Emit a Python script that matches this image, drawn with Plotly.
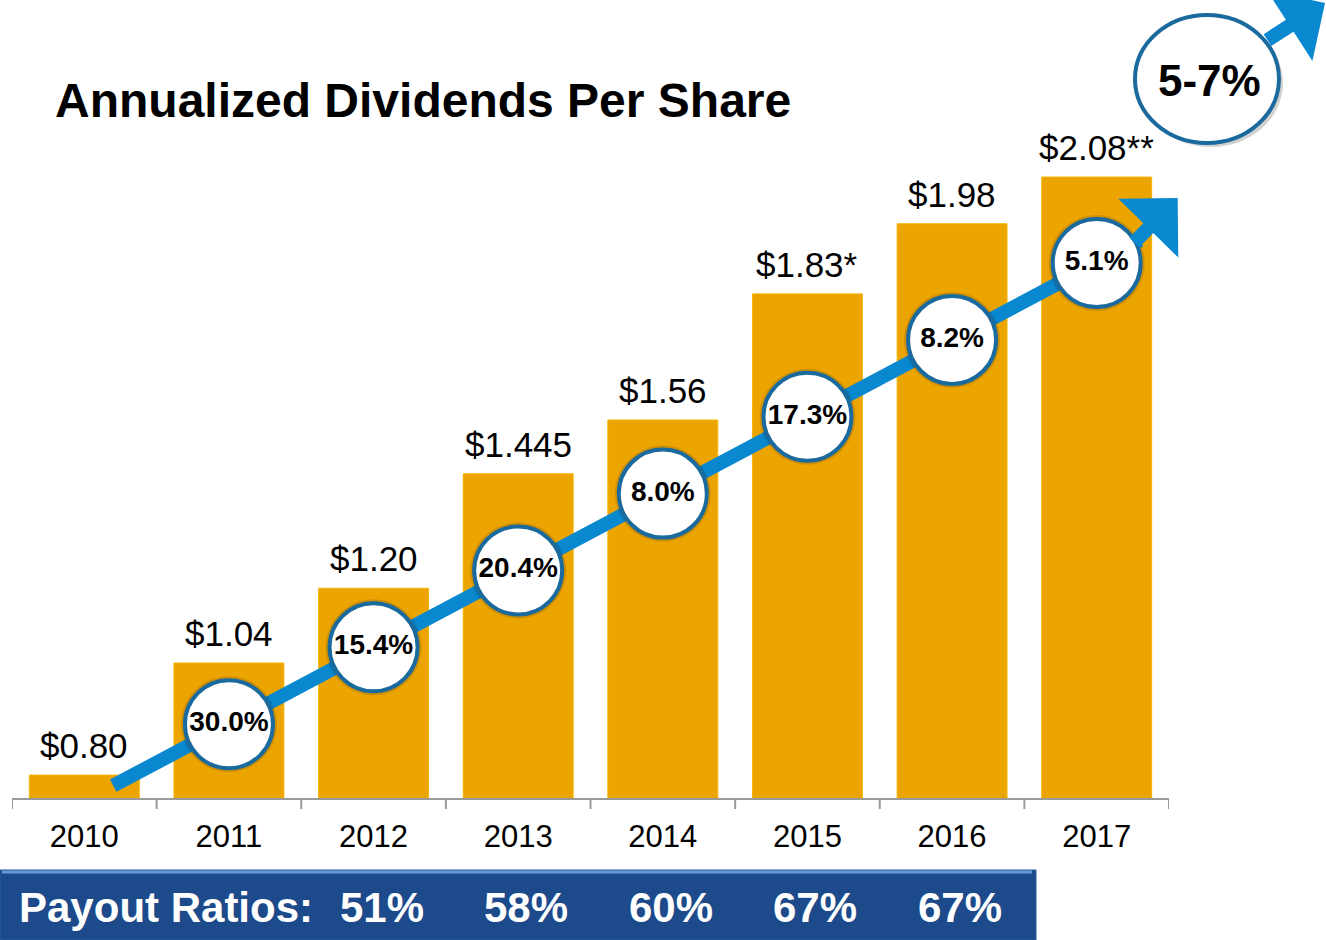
import plotly.graph_objects as go

# data
years = ["2010", "2011", "2012", "2013", "2014", "2015", "2016", "2017"]
dividends = [0.80, 1.04, 1.20, 1.445, 1.56, 1.83, 1.98, 2.08]
div_labels = ["$0.80", "$1.04", "$1.20", "$1.445", "$1.56", "$1.83*", "$1.98", "$2.08**"]

growth_years = ["2011", "2012", "2013", "2014", "2015", "2016", "2017"]
growth_labels = ["30.0%", "15.4%", "20.4%", "8.0%", "17.3%", "8.2%", "5.1%"]

payout_years = ["2012", "2013", "2014", "2015", "2016"]
payout_ratios = ["51%", "58%", "60%", "67%", "67%"]

outlook = "5-7%"

FONT = "Arial, Liberation Sans, sans-serif"
BLUE_LINE = "#0A88CF"
RING = "#1B6A9E"

# value axis window (bars start below the visible range)
y_lo, y_hi = 0.751, 2.459
# trend line the growth bubbles sit on (value axis units, per category step)
trend_start, trend_step = 0.909, 0.1645


def trend(i):
    return trend_start + trend_step * (i - 1)


def px_x(p):
    return p / 1326


def px_y(p):
    return 1 - p / 940


fig = go.Figure()

fig.add_trace(go.Bar(
    x=list(range(len(years))), y=dividends, width=0.76,
    marker=dict(color="#EBA400", line=dict(color="#F6B400", width=1)),
    hoverinfo="skip",
))

# blue growth line
gpos = [years.index(y) for y in growth_years]
gx = [0.2] + gpos + [7.3]
fig.add_trace(go.Scatter(
    x=gx, y=[trend(i) for i in gx], mode="lines",
    line=dict(color=BLUE_LINE, width=14), hoverinfo="skip",
))

# soft shadow ring behind the bubbles
fig.add_trace(go.Scatter(
    x=gpos, y=[trend(i) for i in gpos], mode="markers",
    marker=dict(size=96, color="rgba(0,0,0,0.12)", line=dict(width=0)),
    hoverinfo="skip",
))

# growth bubbles
fig.add_trace(go.Scatter(
    x=gpos, y=[trend(i) for i in gpos], mode="markers+text",
    marker=dict(size=88, color="white", line=dict(color=RING, width=4)),
    text=growth_labels, textposition="middle center",
    textfont=dict(family=FONT, size=28, color="black", weight="bold"),
    hoverinfo="skip",
))

# dollar labels above bars
for i, (v, lab) in enumerate(zip(dividends, div_labels)):
    fig.add_annotation(x=i, y=v, text=lab, showarrow=False, yanchor="bottom", yshift=8,
                       font=dict(family=FONT, size=35, color="black"))

# arrow head at the end of the growth line
fig.add_annotation(x=7.56, y=2.035, ax=7.25, ay=trend(7.25), axref="x", ayref="y",
                   xref="x", yref="y", text="", showarrow=True,
                   arrowhead=1, arrowsize=1.0, arrowwidth=14, arrowcolor=BLUE_LINE)

# outlook bubble with arrow, top right
fig.add_shape(type="circle", xref="paper", yref="paper",
              x0=px_x(1139), x1=px_x(1283), y0=px_y(147), y1=px_y(19),
              fillcolor="rgba(0,0,0,0.18)", line=dict(width=0), layer="above")
fig.add_shape(type="circle", xref="paper", yref="paper",
              x0=px_x(1135), x1=px_x(1279), y0=px_y(143), y1=px_y(15),
              fillcolor="white", line=dict(color=RING, width=4), layer="above")
fig.add_annotation(x=px_x(1325), y=px_y(3), xref="paper", yref="paper", ax=-59, ay=38,
                   text="", showarrow=True, arrowhead=1, arrowsize=1.0,
                   arrowwidth=14, arrowcolor=BLUE_LINE)
fig.add_annotation(x=px_x(1209), y=px_y(80), xref="paper", yref="paper",
                   xanchor="center", yanchor="middle",
                   text=outlook, showarrow=False,
                   font=dict(family=FONT, size=44, color="black", weight="bold"))

# title
fig.add_annotation(x=px_x(53), y=px_y(100), xref="paper", yref="paper",
                   xanchor="left", yanchor="middle",
                   text="<b>Annualized Dividends Per Share</b>", showarrow=False,
                   font=dict(family=FONT, size=48, color="black"))

# payout ratio banner
fig.add_shape(type="rect", xref="paper", yref="paper",
              x0=0, x1=px_x(1036), y0=0, y1=px_y(870),
              fillcolor="#1C4A8B", line=dict(color="#2A5C9E", width=1), layer="above")
fig.add_shape(type="line", xref="paper", yref="paper",
              x0=px_x(2), x1=px_x(1032), y0=px_y(872), y1=px_y(872),
              line=dict(color="#6A9AD6", width=3), layer="above")
fig.add_annotation(x=px_x(17), y=px_y(907), xref="paper", yref="paper",
                   xanchor="left", yanchor="middle",
                   text="<b>Payout Ratios:</b>", showarrow=False,
                   font=dict(family=FONT, size=42, color="white"))
for yr, p in zip(payout_years, payout_ratios):
    fig.add_annotation(x=years.index(yr), y=px_y(907), xref="x", yref="paper",
                       xanchor="center", yanchor="middle",
                       xshift=8, text="<b>" + p + "</b>", showarrow=False,
                       font=dict(family=FONT, size=42, color="white"))

fig.update_layout(
    width=1326, height=940,
    margin=dict(l=0, r=0, t=0, b=0),
    paper_bgcolor="white", plot_bgcolor="white",
    showlegend=False,
    xaxis=dict(
        domain=[px_x(12), px_x(1169)],
        range=[-0.5, 7.5],
        tickmode="array", tickvals=list(range(len(years))), ticktext=years,
        showline=True, linecolor="#9A9A9A", linewidth=2,
        ticks="", showgrid=False, zeroline=False,
        tickfont=dict(family=FONT, size=31, color="black"),
        ticklabelstandoff=10,
    ),
    yaxis=dict(
        domain=[1 - 798 / 940, 1],
        range=[y_lo, y_hi],
        visible=False, showgrid=False, zeroline=False,
    ),
)

# tick marks at the category boundaries
for b in range(len(years) + 1):
    fig.add_shape(type="line", xref="x", yref="paper", x0=b - 0.5, x1=b - 0.5,
                  y0=px_y(809), y1=px_y(798),
                  line=dict(color="#9A9A9A", width=2))

fig.write_html("out.html", config={"displayModeBar": False},
               post_script="document.body.style.margin='0';")
